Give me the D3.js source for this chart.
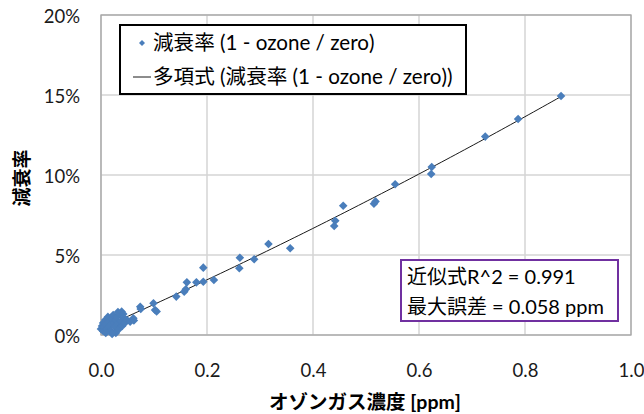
<!DOCTYPE html>
<html><head><meta charset="utf-8">
<script src="https://cdn.jsdelivr.net/npm/d3@7"></script>
<style>
body{margin:0;background:#fff;}
text{font-family:Lato,"Noto Sans CJK JP",sans-serif;}
</style></head>
<body><svg id="c" width="644" height="414"></svg>
<script>
// data: ozone concentration [ppm] and decay rate [%]
const ozone = [0.000,0.002,0.004,0.004,0.006,0.008,0.009,0.011,0.013,0.015,0.017,0.019,0.021,0.023,0.025,0.026,0.028,0.028,0.030,0.032,0.034,0.036,0.038,0.040,0.043,0.045,0.049,0.021,0.009,0.032,0.039,0.042,0.055,0.061,0.062,0.074,0.075,0.099,0.102,0.105,
0.142,0.157,0.160,0.162,0.180,0.193,0.213,0.193,0.261,0.262,0.289,0.316,0.357,0.440,0.442,0.457,0.515,0.518,0.555,0.623,0.624,0.725,0.787,0.868];
const decay = [0.38,0.56,0.75,0.25,0.50,0.94,0.69,0.38,1.13,0.81,0.56,0.25,1.00,1.25,0.75,0.50,0.13,0.94,1.13,0.69,0.38,1.31,0.88,0.56,1.06,0.75,0.94,0.06,0.13,1.44,1.46,1.31,0.83,1.04,0.91,1.77,1.63,1.98,1.56,1.47,
2.40,2.71,2.86,3.29,3.29,3.33,3.44,4.21,4.17,4.83,4.73,5.69,5.42,6.81,7.14,8.08,8.20,8.35,9.42,10.06,10.50,12.40,13.50,14.94];
// polynomial trendline coefficients (percent): a + b x + c x^2
const trendCoef = [0.42, 14.69, 2.30];
const xTicks = [0,0.2,0.4,0.6,0.8,1.0];
const xTickLabels = ["0.0","0.2","0.4","0.6","0.8","1.0"];
const yTicks = [0,5,10,15,20];
const yTickLabels = ["0%","5%","10%","15%","20%"];
const legendLabels = ["減衰率 (1 - ozone / zero)","多項式 (減衰率 (1 - ozone / zero))"];
const noteLines = ["近似式R^2 = 0.991","最大誤差 = 0.058 ppm"];
const xTitle = "オゾンガス濃度 [ppm]";
const yTitle = "減衰率";

const svg = d3.select("#c");
const L=101,R=631,T=15,B=335;
const x = d3.scaleLinear().domain([0,1]).range([L,R]);
const y = d3.scaleLinear().domain([0,20]).range([B,T]);

// gridlines
svg.append("g").selectAll("line").data(xTicks).join("line")
  .attr("x1",d=>x(d)).attr("x2",d=>x(d)).attr("y1",T).attr("y2",B)
  .attr("stroke","#d4d4d4").attr("stroke-width",1.5);
svg.append("g").selectAll("line").data(yTicks).join("line")
  .attr("y1",d=>y(d)).attr("y2",d=>y(d)).attr("x1",L).attr("x2",R)
  .attr("stroke","#d4d4d4").attr("stroke-width",1.5);
svg.append("rect").attr("x",L).attr("y",T).attr("width",R-L).attr("height",B-T)
  .attr("fill","none").attr("stroke","#a6a6a6").attr("stroke-width",1.3);

// axes tick labels
const xa = d3.axisBottom(x).tickValues(xTicks).tickFormat((d,i)=>xTickLabels[i]).tickSize(0).tickPadding(0);
const gx = svg.append("g").attr("transform",`translate(0,${B})`).call(xa);
gx.select(".domain").remove();
gx.selectAll("text").attr("y",42).attr("dy",0).attr("font-size",18.5).attr("fill","#1a1a1a");
const ya = d3.axisLeft(y).tickValues(yTicks).tickFormat((d,i)=>yTickLabels[i]).tickSize(0).tickPadding(0);
const gy = svg.append("g").attr("transform",`translate(80,0)`).call(ya);
gy.select(".domain").remove();
gy.selectAll("text").attr("x",0).attr("dy","0.38em").attr("font-size",18.5).attr("fill","#1a1a1a");

// trendline
const xmin = d3.min(ozone), xmax = d3.max(ozone);
const xs = d3.range(0,101).map(i=>xmin+(xmax-xmin)*i/100);
const f = v=>trendCoef[0]+trendCoef[1]*v+trendCoef[2]*v*v;
svg.append("path").datum(xs)
  .attr("d",d3.line().x(d=>x(d)).y(d=>y(f(d))))
  .attr("fill","none").attr("stroke","#000").attr("stroke-width",0.9);

// points
const diamond = (r)=>`M0,${-r}L${r},0L0,${r}L${-r},0Z`;
svg.append("g").selectAll("path").data(ozone.map((v,i)=>[v,decay[i]])).join("path")
  .attr("transform",d=>`translate(${x(d[0])},${y(d[1])})`)
  .attr("d",diamond(4.3)).attr("fill","#4a7ebb");

// legend
svg.append("rect").attr("x",120).attr("y",25).attr("width",346).attr("height",69)
  .attr("fill","#fff").attr("stroke","#000").attr("stroke-width",2);
svg.append("path").attr("transform","translate(142,43)").attr("d",diamond(3)).attr("fill","#4a7ebb");
svg.append("line").attr("x1",133).attr("x2",151).attr("y1",77).attr("y2",77).attr("stroke","#000").attr("stroke-width",0.9);
svg.selectAll(".lg").data(legendLabels).join("text").attr("class","lg")
  .attr("x",153).attr("y",(d,i)=>50+i*34).attr("font-size",20.6).attr("fill","#000").text(d=>d);

// note box
svg.append("rect").attr("x",401).attr("y",260).attr("width",217).attr("height",61)
  .attr("fill","#fff").attr("stroke","#7030a0").attr("stroke-width",2);
svg.selectAll(".nt").data(noteLines).join("text").attr("class","nt")
  .attr("x",407).attr("y",(d,i)=>284+i*30).attr("font-size",20).attr("fill","#000").text(d=>d);

// axis titles
svg.append("text").attr("x",365).attr("y",409).attr("text-anchor","middle")
  .attr("font-size",19.5).attr("font-weight","bold").attr("fill","#000").text(xTitle);
svg.append("text").attr("transform","translate(29,178) rotate(-90)").attr("text-anchor","middle")
  .attr("font-size",19).attr("font-weight","bold").attr("fill","#000").text(yTitle);
</script></body></html>
